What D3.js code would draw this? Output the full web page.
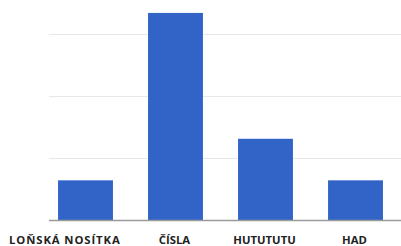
<!DOCTYPE html>
<html><head><meta charset="utf-8">
<script src="https://cdn.jsdelivr.net/npm/d3@7"></script>
<style>html,body{margin:0;padding:0;background:#fff;}svg{display:block;}</style>
</head><body>
<script>
const categories = ["LOŇSKÁ NOSÍTKA", "ČÍSLA", "HUTUTUTU", "HAD"];
const values = [3.2, 16.7, 6.55, 3.2];
const gridTicks = [5, 10, 15];

const W = 401, H = 246;
const svg = d3.select("body").append("svg").attr("width", W).attr("height", H);

const x = d3.scaleBand().domain(categories).range([40.5, 400.5]).paddingInner(0.39).paddingOuter(0.195);
const y = d3.scaleLinear().domain([0, 17.5]).range([220, 3]);

svg.append("g").selectAll("line").data(gridTicks).join("line")
  .attr("x1", 49).attr("x2", W).attr("y1", d => Math.round(y(d)) + 0.5).attr("y2", d => Math.round(y(d)) + 0.5)
  .attr("stroke", "#e8e8e8").attr("stroke-width", 1.2);

svg.append("g").selectAll("rect").data(values).join("rect")
  .attr("x", (d, i) => x(categories[i])).attr("width", x.bandwidth())
  .attr("y", d => y(d)).attr("height", d => y(0) - y(d))
  .attr("fill", "#3264c8");

svg.append("line").attr("x1", 49).attr("x2", W).attr("y1", y(0) + 0.5).attr("y2", y(0) + 0.5)
  .attr("stroke", "#9a9a9a").attr("stroke-width", 1.3);

const labels = svg.append("g").selectAll("text").data(categories).join("text")
  .attr("x", d => x(d) + x.bandwidth() / 2 - 1).attr("y", 244)
  .attr("text-anchor", "middle")
  .attr("font-family", "Open Sans, sans-serif").attr("font-weight", "bold").attr("font-size", 11.3)
  .attr("fill", "#222").text(d => d);
// first label in the reference sits flush near the left edge
labels.filter((d, i) => i === 0).attr("text-anchor", "start").attr("x", 9).attr("letter-spacing", 0.9);
</script>
</body></html>
